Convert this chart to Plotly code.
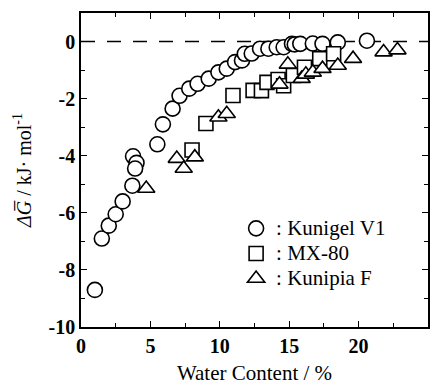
import plotly.graph_objects as go

# Kunigel V1 (circles)
kun_x = [1.0, 1.5, 2.0, 2.5, 3.0, 3.7, 3.75, 4.0, 3.9, 5.5, 5.9, 6.6, 7.1, 7.8, 8.4, 9.2, 9.9,
         10.5, 11.1, 11.6, 11.8, 12.3, 12.9, 13.5, 14.1, 14.6, 15.2, 15.4, 15.8, 16.7, 17.4, 18.5, 20.6]
kun_y = [-8.7, -6.9, -6.45, -6.05, -5.6, -5.05, -4.02, -4.25, -4.45, -3.6, -2.9, -2.35, -1.9, -1.65,
         -1.48, -1.3, -1.08, -0.95, -0.72, -0.66, -0.43, -0.42, -0.25, -0.25, -0.2, -0.2, -0.08,
         -0.1, -0.08, -0.07, -0.08, -0.03, 0.03]

# MX-80 (squares)
mx_x = [8.0, 9.0, 10.95, 12.4, 13.0, 13.4, 14.2, 14.6, 15.3, 16.1, 17.2, 18.2]
mx_y = [-3.8, -2.87, -1.89, -1.71, -1.72, -1.43, -1.33, -1.55, -1.19, -0.9, -0.6, -0.43]

# Kunipia F (triangles)
kp_x = [4.7, 6.9, 7.4, 8.2, 9.9, 10.5, 14.3, 14.9, 15.9, 16.2, 16.7, 17.4, 18.5, 19.6, 21.8, 22.8]
kp_y = [-5.15, -4.1, -4.45, -4.05, -2.65, -2.53, -1.5, -0.8, -1.3, -1.15, -1.08, -0.95, -0.84,
        -0.6, -0.37, -0.3]

series_names = [": Kunigel V1", ": MX-80", ": Kunipia F"]

y_ticks = [0, -2, -4, -6, -8, -10]
y_labels = ["0", "-2", "-4", "-6", "-8", "-10"]
x_ticks = [0, 5, 10, 15, 20, 25]
x_labels = ["0", "5", "10", "15", "20", "25"]

FONT = "Liberation Serif"


def legend_name(s):
    return '<span style="font-size:21px">' + s + "</span>"


fig = go.Figure()

fig.add_shape(type="line", x0=0, x1=25, y0=0, y1=0, xref="x", yref="y",
              line=dict(color="black", width=1.5, dash="14px,12px"), layer="below")

mk = dict(color="white", line=dict(color="black", width=1.6))
fig.add_trace(go.Scatter(x=kun_x, y=kun_y, mode="markers", name=legend_name(series_names[0]),
                         marker=dict(symbol="circle", size=15, **mk)))
fig.add_trace(go.Scatter(x=mx_x, y=mx_y, mode="markers", name=legend_name(series_names[1]),
                         marker=dict(symbol="square", size=14, **mk)))
fig.add_trace(go.Scatter(x=kp_x, y=kp_y, mode="markers", name=legend_name(series_names[2]),
                         marker=dict(symbol="triangle-up", size=15, **mk)))

axis_common = dict(showgrid=False, zeroline=False, showline=True, linecolor="black",
                   linewidth=1.5, mirror="allticks", ticks="inside", ticklen=6,
                   tickwidth=1.2, tickcolor="black", automargin=False,
                   tickfont=dict(family=FONT, size=20, color="black", weight="bold"))

fig.update_xaxes(range=[0, 25], tickvals=x_ticks, ticktext=x_labels,
                 minor=dict(dtick=2.5, ticks="inside", ticklen=4, tickcolor="black", tickwidth=1),
                 title=dict(text="Water Content / %", font=dict(family=FONT, size=21, color="black"),
                            standoff=10),
                 **axis_common)
fig.update_yaxes(range=[-10, 1], tickvals=y_ticks, ticktext=y_labels,
                 minor=dict(dtick=1, ticks="inside", ticklen=4, tickcolor="black", tickwidth=1),
                 title=dict(text="<i>ΔG̅</i> / kJ· mol<sup>-1</sup>",
                            font=dict(family=FONT, size=20, color="black"), standoff=12),
                 **axis_common)

fig.update_layout(
    width=436, height=388,
    margin=dict(l=81, r=8, t=13, b=61),
    plot_bgcolor="white", paper_bgcolor="white",
    font=dict(family=FONT, color="black"),
    legend=dict(x=0.447, y=0.37, xanchor="left", yanchor="top",
                bgcolor="rgba(0,0,0,0)", borderwidth=0, tracegroupgap=0,
                font=dict(family=FONT, size=17, color="black"), itemwidth=30),
)

fig.write_html("out.html", config={"displayModeBar": False},
               post_script="document.body.style.margin='0px';")
